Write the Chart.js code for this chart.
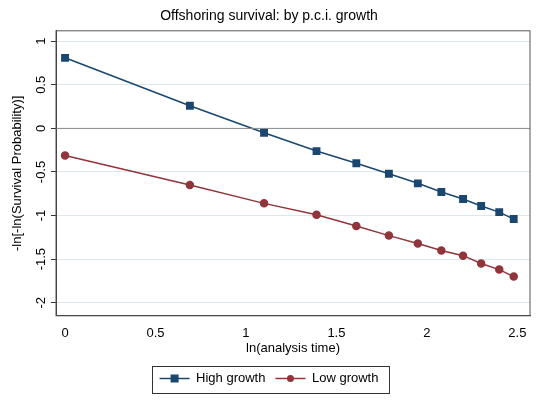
<!DOCTYPE html>
<html>
<head>
<script src="https://cdn.jsdelivr.net/npm/chart.js@4"></script>
<style>
  body { margin: 0; background: #fff; }
</style>
</head>
<body>
<canvas id="c" width="549" height="403"></canvas>
<script>
// ln(analysis time) at each observed time
const lnTime = [0, 0.69, 1.10, 1.39, 1.61, 1.79, 1.95, 2.08, 2.20, 2.30, 2.40, 2.48];
const highGrowth = [0.81, 0.26, -0.05, -0.26, -0.40, -0.52, -0.63, -0.73, -0.81, -0.89, -0.96, -1.04];
const lowGrowth = [-0.31, -0.65, -0.86, -0.99, -1.12, -1.23, -1.32, -1.40, -1.46, -1.55, -1.62, -1.70];
const xTicks = [0, 0.5, 1, 1.5, 2, 2.5];
const yTicks = [1, 0.5, 0, -0.5, -1, -1.5, -2];

const navy = "#1a476f";
const maroon = "#90353b";
const font = "Liberation Sans";

const pts = (ys) => ys.map((y, i) => ({ x: lnTime[i], y }));

// rotated y tick labels and y title (Stata style), zero line, frames, legend markers
const extras = {
    id: "extras",
    afterDraw(chart) {
        const { ctx, scales, chartArea } = chart;
        const y = scales.y;
        ctx.save();
        ctx.fillStyle = "#000";
        ctx.font = `13px ${font}`;
        ctx.textAlign = "center";
        ctx.textBaseline = "bottom";
        yTicks.forEach((v) => {
            ctx.save();
            ctx.translate(y.right - 8, y.getPixelForValue(v));
            ctx.rotate(-Math.PI / 2);
            ctx.fillText(String(v), 0, 0);
            ctx.restore();
        });
        ctx.save();
        ctx.translate(y.left + 16, (chartArea.top + chartArea.bottom) / 2);
        ctx.rotate(-Math.PI / 2);
        ctx.fillText("-ln[-ln(Survival Probability)]", 0, 0);
        ctx.restore();

        const zy = y.getPixelForValue(0);
        ctx.strokeStyle = "#8a8a8a";
        ctx.lineWidth = 1;
        ctx.beginPath();
        ctx.moveTo(chartArea.left, zy);
        ctx.lineTo(chartArea.right, zy);
        ctx.stroke();

        ctx.strokeStyle = "#555";
        ctx.strokeRect(chartArea.left, chartArea.top, chartArea.right - chartArea.left, chartArea.bottom - chartArea.top);

        const hb = chart.legend.legendHitBoxes;
        if (hb.length) {
            const l = hb[0].left - 8, r = hb[hb.length - 1].left + hb[hb.length - 1].width + 10;
            ctx.strokeStyle = "#333";
            ctx.strokeRect(Math.round(l) + 0.5, Math.round(hb[0].top - 6) + 0.5, Math.round(r - l), 27);
            chart.data.datasets.forEach((d, i) => {
                const cx = hb[i].left + 15, cy = hb[i].top + hb[i].height / 2;
                ctx.fillStyle = d.backgroundColor;
                if (d.pointStyle === "rect") ctx.fillRect(cx - 4, cy - 4, 8, 8);
                else { ctx.beginPath(); ctx.arc(cx, cy, 3.5, 0, Math.PI * 2); ctx.fill(); }
            });
        }
        ctx.restore();
    },
};

new Chart(document.getElementById("c"), {
    type: "scatter",
    data: {
        datasets: [
            {
                label: "High growth",
                data: pts(highGrowth),
                showLine: true,
                borderColor: navy,
                backgroundColor: navy,
                borderWidth: 1.5,
                pointStyle: "rect",
                pointRadius: 4.5,
            },
            {
                label: "Low growth",
                data: pts(lowGrowth),
                showLine: true,
                borderColor: maroon,
                backgroundColor: maroon,
                borderWidth: 1.5,
                pointStyle: "circle",
                pointRadius: 3.5,
            },
        ],
    },
    options: {
        responsive: false,
        animation: false,
        layout: { padding: { left: 8, right: 19, top: 4, bottom: 8 } },
        plugins: {
            title: {
                display: true,
                text: "Offshoring survival: by p.c.i. growth",
                color: "#000",
                font: { family: font, size: 14, weight: "normal" },
                padding: { top: 4, bottom: 6 },
            },
            legend: {
                position: "bottom",
                labels: {
                    color: "#000",
                    font: { family: font, size: 13 },
                    usePointStyle: true,
                    pointStyleWidth: 30,
                    boxHeight: 8,
                    padding: 10,
                    generateLabels: (chart) =>
                        chart.data.datasets.map((d, i) => ({
                            text: d.label,
                            fillStyle: d.borderColor,
                            strokeStyle: d.borderColor,
                            lineWidth: 1.5,
                            pointStyle: "line",
                            fontColor: "#000",
                            datasetIndex: i,
                        })),
                },
            },
            tooltip: { enabled: false },
        },
        scales: {
            x: {
                type: "linear",
                min: -0.05,
                max: 2.57,
                afterBuildTicks: (s) => { s.ticks = xTicks.map((v) => ({ value: v })); },
                grid: { display: false },
                border: { color: "#333" },
                ticks: { color: "#000", font: { family: font, size: 13 }, padding: 2, callback: (v) => String(v) },
                title: {
                    display: true,
                    text: "ln(analysis time)",
                    color: "#000",
                    font: { family: font, size: 13 },
                    padding: { top: -3, bottom: 6 },
                },
            },
            y: {
                min: -2.15,
                max: 1.12,
                afterBuildTicks: (s) => { s.ticks = yTicks.map((v) => ({ value: v })); },
                afterFit: (s) => { s.width = 48; },
                grid: { color: "#dde8ec", borderDash: [6, 4], tickColor: "#333", tickLength: 5 },
                border: { color: "#333" },
                ticks: { display: false },
            },
        },
    },
    plugins: [extras],
});
</script>
</body>
</html>
